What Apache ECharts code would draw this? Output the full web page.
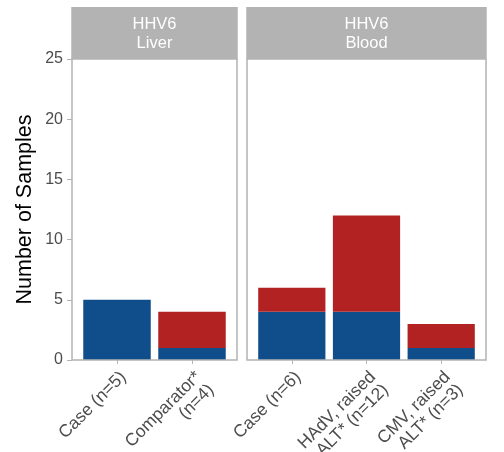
<!DOCTYPE html>
<html>
<head>
<meta charset="utf-8">
<script src="https://cdn.jsdelivr.net/npm/echarts@6/dist/echarts.min.js"></script>
<style>
  html, body { margin: 0; padding: 0; background: #fff; }
  #chart { width: 504px; height: 452px; }
</style>
</head>
<body>
<div id="chart"></div>
<script>
// Panel titles
const panelTitles = ['HHV6\nLiver', 'HHV6\nBlood'];

// Liver panel
const liverCategories = ['Case (n=5)', 'Comparator*\n(n=4)'];
const liverBlue = [5, 1];
const liverRed = [0, 3];

// Blood panel
const bloodCategories = ['Case (n=6)', 'HAdV, raised\nALT* (n=12)', 'CMV, raised\nALT* (n=3)'];
const bloodBlue = [4, 4, 1];
const bloodRed = [2, 8, 2];

// Y axis
const yTicks = [0, 5, 10, 15, 20, 25];
const yTitle = 'Number of Samples';

const BLUE = '#104E8B';
const RED = '#B22222';
const GREY = '#B3B3B3';
const TEXT = '#4D4D4D';
const FONT = 'Liberation Sans, Arial, sans-serif';
const W = 504, H = 452;

// Panel frames (outer edges) and plot vertical extent
const plotTop = 59, plotBottom = 360;
const stripTop = 7;
const panels = [
  { x0: 72, x1: 237, n: liverCategories.length },
  { x0: 247, x1: 486, n: bloodCategories.length }
];
// Discrete scale: 0.6 band padding on each end, so the bands sit 0.1 unit inside the frame
panels.forEach(p => {
  const unit = (p.x1 - p.x0) / (p.n - 1 + 1.2);
  p.inset = unit * 0.1;
});

const grids = panels.map(p => ({
  left: p.x0 + p.inset,
  right: W - p.x1 + p.inset,
  top: plotTop,
  bottom: H - plotBottom,
  containLabel: false,
  outerBoundsMode: 'none'
}));

function xAxisFor(idx, cats) {
  return {
    type: 'category',
    gridIndex: idx,
    data: cats,
    boundaryGap: true,
    axisLine: { show: false },
    axisTick: { show: true, alignWithLabel: true, length: 4, lineStyle: { color: GREY, width: 1 } },
    axisLabel: {
      rotate: 45, interval: 0, margin: 8,
      color: TEXT, fontSize: 17.5, fontFamily: FONT,
      lineHeight: 18, verticalAlign: 'top', align: 'right'
    },
    splitLine: { show: false }
  };
}

function yAxisFor(idx, p, showLabels) {
  return {
    type: 'value',
    gridIndex: idx,
    min: yTicks[0],
    max: yTicks[yTicks.length - 1],
    interval: yTicks[1] - yTicks[0],
    offset: p.inset,
    axisLine: { show: false },
    axisTick: { show: showLabels, length: 5, lineStyle: { color: GREY, width: 1 } },
    axisLabel: {
      show: showLabels, color: TEXT, fontSize: 16, margin: 9, fontFamily: FONT
    },
    splitLine: { show: false },
    name: showLabels ? yTitle : '',
    nameLocation: 'middle',
    nameRotate: 90,
    nameGap: 36,
    nameTextStyle: { color: '#000', fontSize: 21.5, fontFamily: FONT }
  };
}

function stacked(idx, blue, red) {
  const common = { type: 'bar', xAxisIndex: idx, yAxisIndex: idx, stack: 's' + idx, barCategoryGap: '10%' };
  return [
    Object.assign({}, common, { data: blue, itemStyle: { color: BLUE } }),
    Object.assign({}, common, { data: red, itemStyle: { color: RED } })
  ];
}

// Frames and facet strips
const graphics = [];
panels.forEach((p, i) => {
  graphics.push({
    type: 'rect', z: 100,
    shape: { x: p.x0, y: plotTop, width: p.x1 - p.x0, height: plotBottom - plotTop },
    style: { fill: 'none', stroke: GREY, lineWidth: 1.5 }
  });
  graphics.push({
    type: 'rect', z: 100,
    shape: { x: p.x0 - 0.75, y: stripTop, width: p.x1 - p.x0 + 1.5, height: plotTop - stripTop },
    style: { fill: GREY }
  });
  graphics.push({
    type: 'text', z: 101,
    x: (p.x0 + p.x1) / 2, y: (stripTop + plotTop) / 2 + 1,
    style: {
      text: panelTitles[i], fill: '#fff', fontSize: 16.5, lineHeight: 19,
      fontFamily: FONT, align: 'center', verticalAlign: 'middle'
    }
  });
});

const chart = echarts.init(document.getElementById('chart'), null, { renderer: 'canvas' });
chart.setOption({
  animation: false,
  backgroundColor: '#fff',
  grid: grids,
  xAxis: [xAxisFor(0, liverCategories), xAxisFor(1, bloodCategories)],
  yAxis: [yAxisFor(0, panels[0], true), yAxisFor(1, panels[1], false)],
  series: [].concat(stacked(0, liverBlue, liverRed), stacked(1, bloodBlue, bloodRed)),
  graphic: graphics
});
</script>
</body>
</html>
